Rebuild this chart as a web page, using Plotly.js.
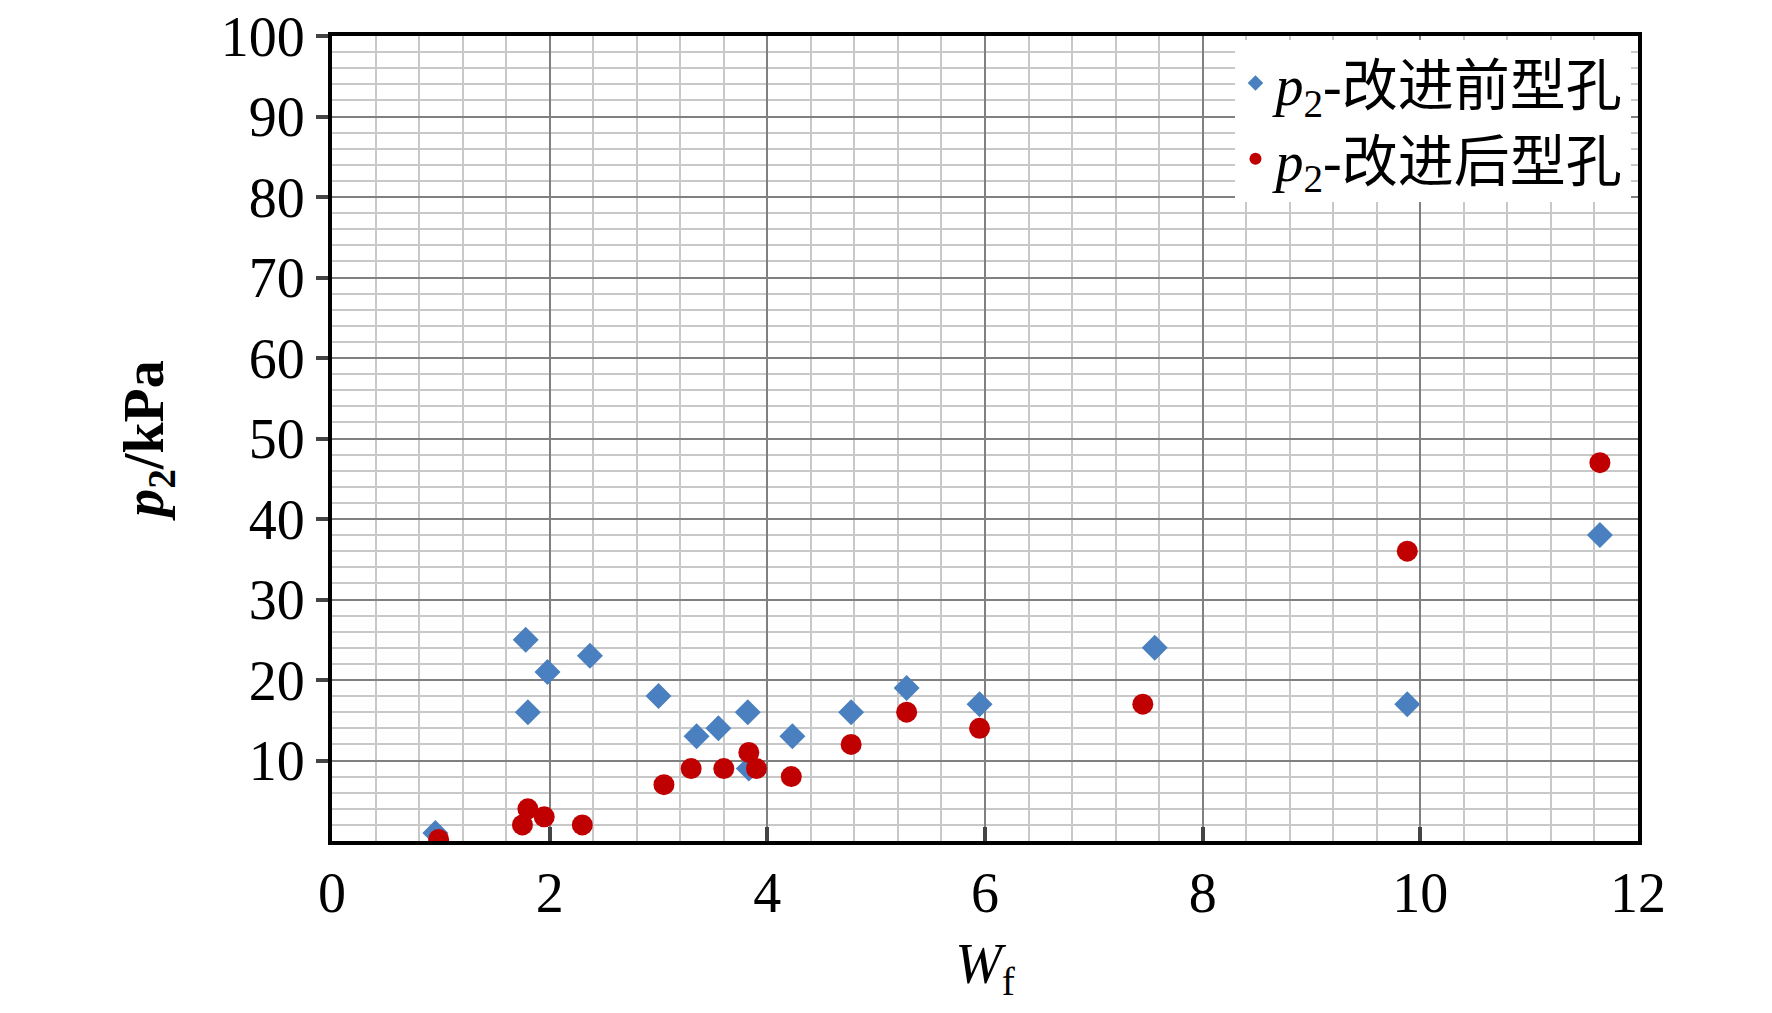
<!DOCTYPE html>
<html><head><meta charset="utf-8">
<script src="https://cdn.plot.ly/plotly-3.0.1.min.js"></script>
<style>body{margin:0;background:#fff}#plot{width:1772px;height:1013px}</style>
</head><body><div id="plot"></div>
<script>
// before improvement
let bx = [0.95, 1.78, 1.8, 1.98, 2.37, 3.0, 3.35, 3.55, 3.82, 3.83, 4.23, 4.77, 5.28, 5.95, 7.56, 9.88, 11.65];
let by = [1, 25, 16, 21, 23, 18, 13, 14, 16, 9, 13, 16, 19, 17, 24, 17, 38];
// after improvement
let rx = [0.98, 1.75, 1.8, 1.95, 2.3, 3.05, 3.3, 3.6, 3.83, 3.9, 4.22, 4.77, 5.28, 5.95, 7.45, 9.88, 11.65];
let ry = [0.2, 2, 4, 3, 2, 7, 9, 9, 11, 9, 8, 12, 16, 14, 17, 36, 47];

let fnt = {family: 'Liberation Serif, Times New Roman, serif', size: 56, color: '#000'};

var data = [
  {x: bx, y: by, mode: 'markers', type: 'scatter', name: '<i>p</i><sub>2</sub>-改进前型孔',
   marker: {symbol: 'diamond', size: 20, color: '#4a80c0'}},
  {x: rx, y: ry, mode: 'markers', type: 'scatter', name: '<i>p</i><sub>2</sub>-改进后型孔',
   marker: {symbol: 'circle', size: 21, color: '#c00000'}}
];

var layout = {
  width: 1772, height: 1013,
  margin: {l: 332, r: 134, t: 36, b: 172},
  paper_bgcolor: '#fff', plot_bgcolor: '#fff',
  font: fnt,
  showlegend: true,
  legend: {x: 0.995, y: 0.995, xanchor: 'right', yanchor: 'top', bgcolor: '#fff',
    font: {family: 'Liberation Serif, Noto Sans CJK SC, serif', size: 56, color: '#000'},
    itemsizing: 'constant', tracegroupgap: 12},
  xaxis: {
    range: [0, 12], tickvals: [0, 2, 4, 6, 8, 10, 12], ticks: 'inside', ticklen: 14, tickwidth: 4,
    showline: true, linewidth: 4, linecolor: '#000', mirror: true,
    gridcolor: '#808080', gridwidth: 1.5, zeroline: false,
    minor: {dtick: 0.4, showgrid: true, gridcolor: '#c8c8c8', gridwidth: 1.5},
    tickfont: fnt,
    title: {text: '<i>W</i><sub>f</sub>', font: fnt, standoff: 22}
  },
  yaxis: {
    range: [0, 100], tickvals: [10, 20, 30, 40, 50, 60, 70, 80, 90, 100], ticks: 'outside', ticklen: 12, tickwidth: 4,
    showline: true, linewidth: 4, linecolor: '#000', mirror: true,
    gridcolor: '#808080', gridwidth: 1.5, zeroline: false,
    minor: {dtick: 2, showgrid: true, gridcolor: '#c8c8c8', gridwidth: 1.5},
    tickfont: fnt,
    title: {text: '<b><i>p</i><sub>2</sub>/kPa</b>', font: fnt, standoff: 40}
  }
};

Plotly.newPlot('plot', data, layout, {displayModeBar: false});
</script></body></html>
